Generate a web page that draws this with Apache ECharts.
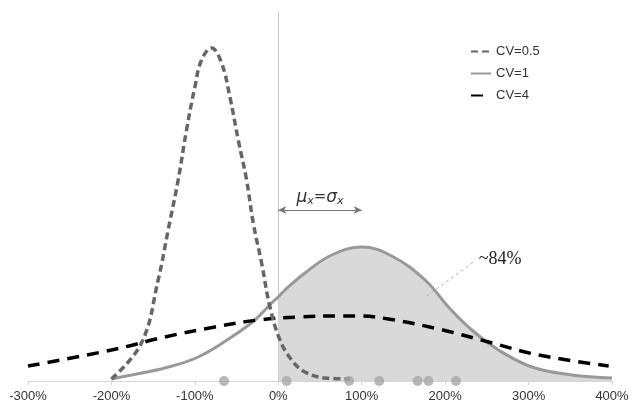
<!DOCTYPE html>
<html>
<head>
<meta charset="utf-8">
<script src="https://cdn.jsdelivr.net/npm/echarts@6/dist/echarts.min.js"></script>
<style>
html,body{margin:0;padding:0;background:#fff;}
#chart{width:633px;height:408px;}
</style>
</head>
<body>
<div id="chart"></div>
<script>
// ---- data (x in %, y in relative density units) ----
var xTicks = [-300, -200, -100, 0, 100, 200, 300, 400];

var cv05X = [-200, -164, -144, -132, -120, -110, -100, -92, -80, -68, -58, -48, -38, -30, -20, -10, 2, 16, 32, 56, 86];
var cv05Y = [2, 38, 101, 151, 201, 251, 294, 321, 333, 318, 284, 241, 201, 158, 118, 74, 41, 21, 9, 3, 2];

var cv1X = [-200, -176, -136, -96, -56, -28, -8, 0, 8, 32, 64, 100, 136, 176, 204, 232, 264, 304, 352, 400];
var cv1Y = [2, 6, 13, 24, 44, 61, 78, 84, 91, 108, 126, 134, 125, 101, 74, 51, 31, 14, 6, 3];

var cv4X = [-300, -200, -136, -76, -24, 24, 72, 96, 132, 192, 252, 312, 396];
var cv4Y = [15, 31, 44, 54, 61, 64, 65, 65, 62, 52, 39, 26, 15];

var sampleX = [-65, 10, 85, 121, 167, 180, 213];

var seriesNames = ['CV=0.5', 'CV=1', 'CV=4'];
var shareLabel = '~84%';

function pairs(xs, ys) { return xs.map(function (x, i) { return [x, ys[i]]; }); }
var cv1Pairs = pairs(cv1X, cv1Y);
var fillPairs = cv1Pairs.filter(function (p) { return p[0] >= 0; });

var chart = echarts.init(document.getElementById('chart'), null, {renderer: 'canvas'});
chart.setOption({
  animation: false,
  backgroundColor: '#ffffff',
  grid: {left: 28, right: 21, top: 12, bottom: 27},
  legend: {
    orient: 'vertical',
    left: 465, top: 40,
    itemWidth: 20, itemHeight: 14, itemGap: 9,
    data: seriesNames,
    itemStyle: {opacity: 0},
    textStyle: {fontFamily: 'Liberation Sans', fontSize: 13, color: '#333'}
  },
  xAxis: {
    type: 'value', min: -300, max: 400, interval: 100,
    axisLine: {lineStyle: {color: '#d6d6d6', width: 1}},
    axisTick: {show: true, length: 4, lineStyle: {color: '#d6d6d6'}},
    splitLine: {show: false},
    axisLabel: {
      show: true, margin: 9, color: '#333', fontFamily: 'Liberation Sans', fontSize: 13,
      formatter: '{value}%'
    }
  },
  yAxis: {
    type: 'value', min: 0, max: 369,
    axisLine: {show: true, onZero: true, lineStyle: {color: '#c4c4c4', width: 1}},
    axisTick: {show: false}, axisLabel: {show: false}, splitLine: {show: false}
  },
  series: [
    {
      name: 'fill', type: 'line', data: fillPairs, smooth: 0.4,
      showSymbol: false, symbol: 'none', lineStyle: {width: 0},
      areaStyle: {color: '#d9d9d9', opacity: 1}, silent: true, z: 1
    },
    {
      name: 'CV=1', type: 'line', data: cv1Pairs, smooth: 0.4,
      showSymbol: false, symbol: 'none',
      itemStyle: {color: '#999999'},
      lineStyle: {color: '#999999', width: 3},
      z: 3,
      markLine: {
        silent: true, symbol: ['none', 'none'],
        lineStyle: {color: '#b0b0b0', width: 1, type: [3, 3]},
        label: {show: false},
        data: [[{coord: [178, 85]}, {coord: [234, 119]}]]
      },
      markPoint: {
        symbol: 'circle', symbolSize: 1, itemStyle: {color: 'rgba(0,0,0,0)'},
        label: {
          show: true, position: 'inside', formatter: shareLabel,
          fontFamily: 'Liberation Serif', fontSize: 18, color: '#222'
        },
        data: [{coord: [266, 122]}]
      }
    },
    {
      name: 'CV=4', type: 'line', data: pairs(cv4X, cv4Y), smooth: 0.4,
      showSymbol: false, symbol: 'none',
      itemStyle: {color: '#000000'},
      lineStyle: {color: '#000000', width: 3.5, type: [12, 8]},
      z: 4
    },
    {
      name: 'CV=0.5', type: 'line', data: pairs(cv05X, cv05Y), smooth: 0.4,
      showSymbol: false, symbol: 'none',
      itemStyle: {color: '#666666'},
      lineStyle: {color: '#666666', width: 3.5, type: [7, 4]},
      z: 5,
      markLine: {
        silent: true, symbol: ['arrow', 'arrow'], symbolSize: [6, 8],
        lineStyle: {color: '#777777', width: 1, type: 'solid'},
        label: {
          show: true, position: 'middle', distance: 3,
          formatter: '{m|μ}{s|x}{e|=}{m|σ}{s|x}',
          rich: {
            m: {fontFamily: 'DejaVu Sans', fontStyle: 'italic', fontSize: 17, color: '#333'},
            s: {fontFamily: 'DejaVu Sans', fontStyle: 'italic', fontSize: 11, color: '#333', padding: [8, 0, 0, 0]},
            e: {fontFamily: 'DejaVu Sans', fontSize: 15, color: '#333'}
          }
        },
        data: [[{coord: [0, 171]}, {coord: [100, 171]}]]
      }
    },
    {
      name: 'samples', type: 'scatter', data: sampleX.map(function (x) { return [x, 0]; }),
      symbolSize: 10, itemStyle: {color: '#a6a6a6'}, silent: true, z: 6
    }
  ]
});
</script>
</body>
</html>
